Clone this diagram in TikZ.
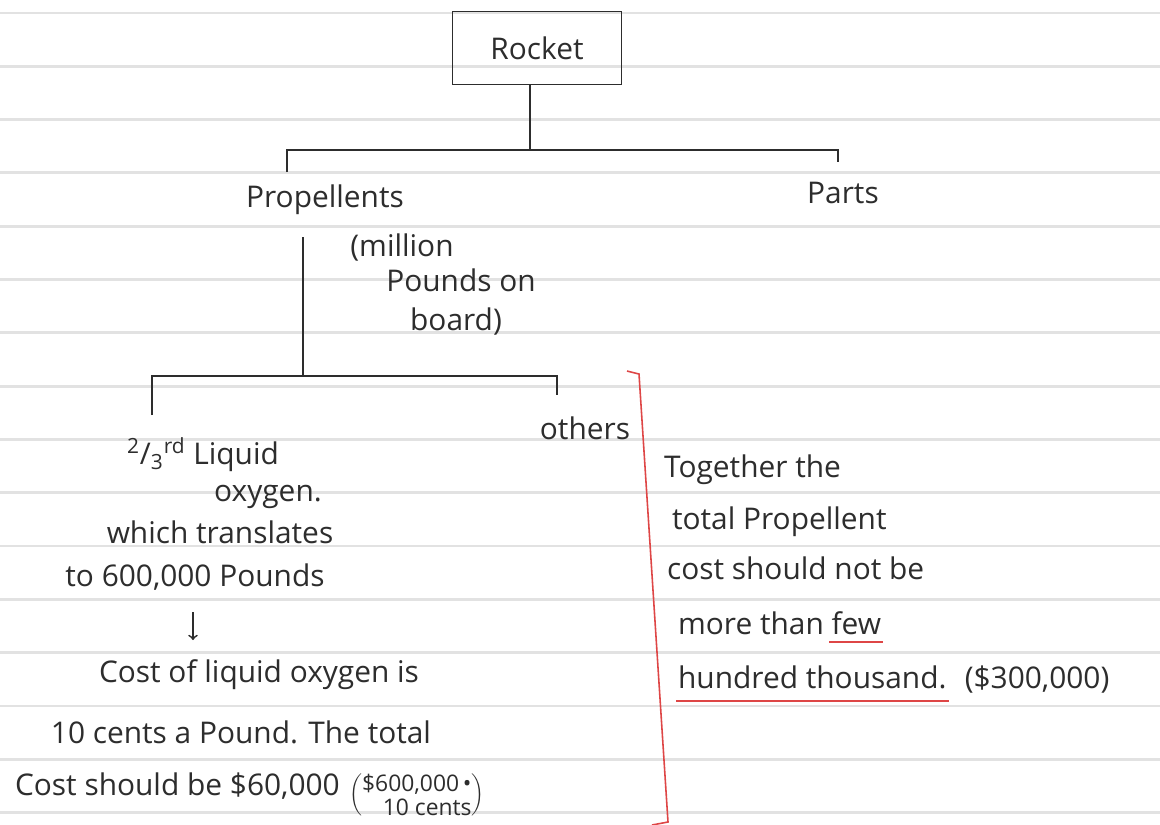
\documentclass[tikz,border=0pt]{standalone}
\usepackage{fontspec}
\setmainfont{Open Sans}
\usetikzlibrary{positioning}
\definecolor{pencil}{RGB}{45,45,45}
\definecolor{penred}{RGB}{222,70,70}
\definecolor{ruling}{RGB}{226,226,226}

\begin{document}
\begin{tikzpicture}[x=0.02cm, y=-0.02cm,
    hand/.style={font=\fontsize{17}{20}\selectfont, text=pencil, inner sep=1pt},
    ink/.style={draw=pencil, line width=1pt},
    redink/.style={draw=penred, line width=0.9pt},
    rule/.style={draw=ruling, line width=1.6pt}]
  % Paper with ruled lines
  \useasboundingbox[fill=white] (0,0) rectangle (1160,825);
  \foreach \k in {0,...,15}
    \draw[rule] (0,13+53.3*\k) -- (1160,13+53.3*\k);

  % Rocket (top box)
  \node[hand, draw=pencil, line width=1pt, minimum width=3.38cm, minimum height=1.46cm] (rocket) at (537,48) {Rocket};

  % First split: Propellents / Parts
  \coordinate (split1) at (530,150);
  \coordinate (propTick) at (287,172);
  \coordinate (partsTick) at (838,162);
  \draw[ink] (rocket.south -| split1) -- (split1);
  \draw[ink] (propTick) |- (split1) -| (partsTick);
  \node[hand] (prop) at (325,200) {Propellents};
  \node[hand] (parts) at (843,193) {Parts};
  \node[hand] (note1) at (402,248) {(million};
  \node[hand] (note2) at (461,280) {Pounds on};
  \node[hand] (note3) at (456,322) {board)};

  % Second split: liquid oxygen / others
  \coordinate (stem) at (303,237);
  \coordinate (split2) at (303,376);
  \coordinate (loxTick) at (152,415);
  \coordinate (otherTick) at (557,395);
  \draw[ink] (stem) -- (split2);
  \draw[ink] (loxTick) |- (split2) -| (otherTick);
  \node[hand] (others) at (585,428) {others};

  % Liquid oxygen notes
  \node[hand] (lox1) at (203,455) {\textsuperscript{2}/\textsubscript{3}\textsuperscript{rd} Liquid};
  \node[hand] (lox2) at (268,497) {oxygen.};
  \node[hand] (lox3) at (220,532) {which translates};
  \node[hand] (lox4) at (195,577) {to 600,000 Pounds};
  \coordinate (arrTop) at (193,612);
  \coordinate (arrEnd) at (193,640);
  \draw[ink, ->] (arrTop) -- (arrEnd);
  \node[hand] (cost1) at (259,675) {Cost of liquid oxygen is};
  \node[hand] (cost2) at (241,732) {10 cents a Pound. The total};
  \node[hand, anchor=base west] (cost3) at (13,795) {Cost should be \$60,000};
  \node[hand, anchor=base west, right=3pt of cost3.base east] (cost4)
    {$\left(\vcenter{\hbox{\fontsize{13}{13}\selectfont\shortstack[r]{\$600,000\,\textbullet\\10 cents}}}\right)$};

  % Red bracket and total
  \coordinate (brTop) at (627,371);
  \coordinate (brTop2) at (639,374);
  \coordinate (brBot) at (668,822);
  \coordinate (brBot2) at (652,825);
  \draw[redink] (brTop) -- (brTop2) -- (brBot) -- (brBot2);
  \node[hand, anchor=west] (tot1) at (662,470) {Together the};
  \node[hand, anchor=west] (tot2) at (670,522) {total Propellent};
  \node[hand, anchor=west] (tot3) at (665,568) {cost should not be};
  \node[hand, anchor=west] (tot4) at (676,623) {more than};
  \node[hand, base right=2pt of tot4] (few) {few};
  \draw[redink] ([yshift=-3pt]few.south west) -- ([yshift=-3pt]few.south east);
  \node[hand, anchor=west] (tot5) at (676,677) {hundred thousand.};
  \node[hand, base right=8pt of tot5] (tot6) {(\$300,000)};
  \draw[redink] ([yshift=-6pt]tot5.south west) -- ([yshift=-6pt]tot5.south east);
\end{tikzpicture}
\end{document}
